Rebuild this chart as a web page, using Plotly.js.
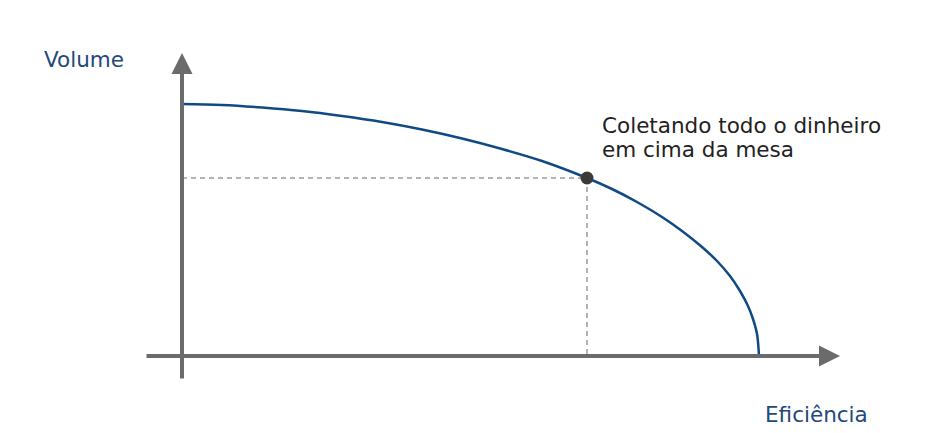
<!DOCTYPE html>
<html>
<head>
<meta charset="utf-8">
<script src="https://cdn.plot.ly/plotly-3.0.1.min.js"></script>
<style>html,body{margin:0;padding:0;background:#fff;}#chart{width:947px;height:433px;}</style>
</head>
<body>
<div id="chart"></div>
<script>
// Curve (x = efficiency, y = volume; arbitrary units)
const efficiency = [0, 40, 80, 120, 160, 200, 240, 280, 320, 360, 405, 430, 455, 480, 500, 520, 535, 548, 558, 566, 571, 575, 577];
const volume     = [252, 251, 248.5, 245, 240, 234, 226.5, 217.5, 207, 195, 178, 167, 154, 139, 125, 109, 95, 80, 65, 50, 37, 22, 0];
// Highlighted point
const pointX = [405];
const pointY = [178];
const pointLabelLines = ["Coletando todo o dinheiro", "em cima da mesa"];
const yLabel = "Volume";
const xLabel = "Eficiência";

const axisColor = '#6b6b6b';
const blue = '#0f4a85';
const labelBlue = '#23497a';
const fontFam = 'DejaVu Sans, sans-serif';

const traces = [
  { x: [0, pointX[0]], y: [pointY[0], pointY[0]], mode: 'lines', line: {color: '#9a9a9a', width: 1.5, dash: '5px,4px'}, hoverinfo: 'skip' },
  { x: [pointX[0], pointX[0]], y: [pointY[0], 0], mode: 'lines', line: {color: '#9a9a9a', width: 1.5, dash: '5px,4px'}, hoverinfo: 'skip' },
  { x: efficiency, y: volume, mode: 'lines', line: {color: blue, width: 2.5, shape: 'spline', smoothing: 1}, hoverinfo: 'skip' },
  { x: pointX, y: pointY, mode: 'markers', marker: {color: '#3a3a3a', size: 13}, hoverinfo: 'skip' }
];

const layout = {
  width: 947, height: 433,
  margin: {l: 0, r: 0, t: 0, b: 0},
  paper_bgcolor: '#fff', plot_bgcolor: '#fff',
  showlegend: false,
  xaxis: {range: [-182, 765], visible: false, fixedrange: true},
  yaxis: {range: [-77, 356], visible: false, fixedrange: true},
  font: {family: fontFam},
  annotations: [
    // vertical axis arrow
    {x: 0, y: 303, ax: 0, ay: -24, xref: 'x', yref: 'y', axref: 'x', ayref: 'y', text: '', showarrow: true,
     arrowhead: 2, arrowsize: 1.05, arrowwidth: 4, arrowcolor: axisColor, standoff: 0, startstandoff: 0},
    // horizontal axis arrow
    {x: 658, y: 0, ax: -37, ay: 0, xref: 'x', yref: 'y', axref: 'x', ayref: 'y', text: '', showarrow: true,
     arrowhead: 2, arrowsize: 1.05, arrowwidth: 4, arrowcolor: axisColor, standoff: 0, startstandoff: 0},
    {x: -98, y: 297, xref: 'x', yref: 'y', text: yLabel, showarrow: false, xanchor: 'center', yanchor: 'middle',
     font: {family: fontFam, size: 21.5, color: labelBlue}},
    {x: 634, y: -58, xref: 'x', yref: 'y', text: xLabel, showarrow: false, xanchor: 'center', yanchor: 'middle',
     font: {family: fontFam, size: 21.5, color: labelBlue}},
    {x: 418, y: 231, xref: 'x', yref: 'y', text: pointLabelLines[0], showarrow: false, xanchor: 'left', yanchor: 'middle', align: 'left',
     font: {family: fontFam, size: 21.5, color: '#222'}},
    {x: 418, y: 207, xref: 'x', yref: 'y', text: pointLabelLines[1], showarrow: false, xanchor: 'left', yanchor: 'middle', align: 'left',
     font: {family: fontFam, size: 21.5, color: '#222'}}
  ]
};

Plotly.newPlot('chart', traces, layout, {staticPlot: true, displayModeBar: false});
</script>
</body>
</html>
